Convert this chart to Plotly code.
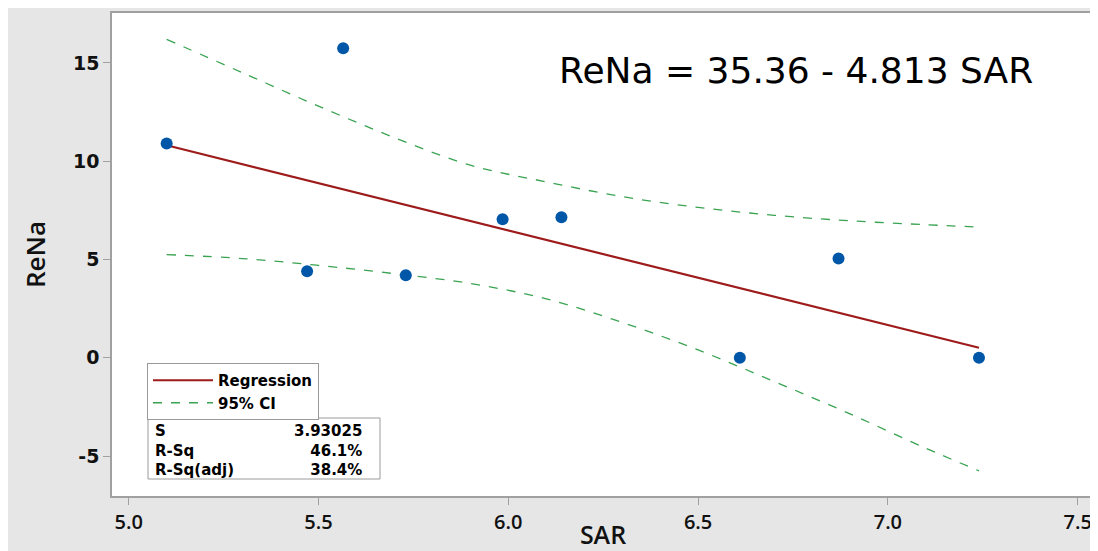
import plotly.graph_objects as go

# ---- data ----
SAR = [5.10, 5.47, 5.565, 5.73, 5.985, 6.14, 6.61, 6.87, 7.24]
RENA = [10.9, 4.4, 15.75, 4.2, 7.05, 7.15, 0.0, 5.05, 0.0]

REG_X = [5.10, 7.24]
REG_Y = [10.81, 0.51]

CI_X = [5.10, 5.30, 5.50, 5.70, 5.90, 6.10, 6.30, 6.50, 6.70, 6.90, 7.10, 7.24]
CI_UPPER = [16.2, 14.5, 12.8, 11.2, 9.8, 8.95, 8.2, 7.65, 7.25, 6.97, 6.77, 6.65]
CI_LOWER = [5.25, 5.05, 4.7, 4.28, 3.78, 3.0, 1.8, 0.4, -1.2, -2.85, -4.6, -5.75]

X_TICKS = [5.0, 5.5, 6.0, 6.5, 7.0, 7.5]
X_TICK_LABELS = ["5.0", "5.5", "6.0", "6.5", "7.0", "7.5"]
Y_TICKS = [-5, 0, 5, 10, 15]
Y_TICK_LABELS = ["-5", "0", "5", "10", "15"]

EQUATION = "ReNa = 35.36 - 4.813 SAR"
STAT_NAMES = ["S", "R-Sq", "R-Sq(adj)"]
STAT_VALUES = ["3.93025", "46.1%", "38.4%"]

# ---- styling ----
OFF = 8  # page body margin of the browser
W, H = 1098 - OFF, 551 - OFF
ML, MR, MT, MB = 112 - OFF, 4, 13 - OFF, 551 - 496
PW, PH = W - ML - MR, H - MT - MB
RED = "#9e1b1b"
GREEN = "#3aa352"
BLUE = "#0057a8"
GRID = "#a0a0a0"
TEXT_FONT = "DejaVu Sans"


def px_x(p):
    # reference page pixel -> paper fraction
    return (p - OFF - ML) / PW


def px_y(p):
    return (H - MB - (p - OFF)) / PH


fig = go.Figure()

fig.add_trace(go.Scatter(
    x=REG_X, y=REG_Y, mode="lines", name="Regression",
    line=dict(color=RED, width=2.2), showlegend=True,
))
fig.add_trace(go.Scatter(
    x=CI_X, y=CI_UPPER, mode="lines", name="95% CI", legendgroup="ci",
    line=dict(color=GREEN, width=1.3, dash="dash", shape="spline"), showlegend=True,
))
fig.add_trace(go.Scatter(
    x=CI_X, y=CI_LOWER, mode="lines", name="95% CI", legendgroup="ci",
    line=dict(color=GREEN, width=1.3, dash="dash", shape="spline"), showlegend=False,
))
fig.add_trace(go.Scatter(
    x=SAR, y=RENA, mode="markers", name="ReNa",
    marker=dict(color=BLUE, size=12), showlegend=False,
))

# equation
fig.add_annotation(
    x=px_x(796), y=px_y(70), xref="paper", yref="paper",
    text=EQUATION, showarrow=False, xanchor="center", yanchor="middle",
    font=dict(family=TEXT_FONT, size=36, color="#000000"),
)

# stats box
fig.add_shape(
    type="rect", xref="paper", yref="paper",
    x0=px_x(148), x1=px_x(380), y0=px_y(479), y1=px_y(418),
    line=dict(color="#9a9a9a", width=1), fillcolor="white", layer="above",
)
fig.add_annotation(
    x=px_x(153), y=px_y(450), xref="paper", yref="paper", text="<br>".join(STAT_NAMES),
    showarrow=False, xanchor="left", yanchor="middle", align="left",
    font=dict(family=TEXT_FONT, size=15, color="#000000", weight="bold"),
)
fig.add_annotation(
    x=px_x(364), y=px_y(450), xref="paper", yref="paper", text="<br>".join(STAT_VALUES),
    showarrow=False, xanchor="right", yanchor="middle", align="right",
    font=dict(family=TEXT_FONT, size=15, color="#000000", weight="bold"),
)

fig.update_layout(
    width=W, height=H,
    margin=dict(l=ML, r=MR, t=MT, b=MB),
    paper_bgcolor="#e6e6e6",
    plot_bgcolor="white",
    showlegend=True,
    legend=dict(
        x=px_x(147), y=px_y(363), xanchor="left", yanchor="top",
        bgcolor="white", bordercolor="#9a9a9a", borderwidth=1,
        font=dict(family=TEXT_FONT, size=15, color="#000000", weight="bold"),
        tracegroupgap=0, itemwidth=60,
    ),
    xaxis=dict(
        range=[4.956, 7.543], tickmode="array", tickvals=X_TICKS, ticktext=X_TICK_LABELS,
        showgrid=False, zeroline=False, showline=True, mirror=True,
        linecolor=GRID, linewidth=1.5, ticks="outside", ticklen=7, tickcolor=GRID,
        tickfont=dict(family="Open Sans", size=20, color="#111111", weight=600),
        title=dict(text="SAR", font=dict(family="Open Sans", size=25, color="#111111", weight=600), standoff=6),
        automargin=False,
    ),
    yaxis=dict(
        range=[-7.03, 17.54], tickmode="array", tickvals=Y_TICKS, ticktext=Y_TICK_LABELS,
        showgrid=False, zeroline=False, showline=True, mirror=True,
        linecolor=GRID, linewidth=1.5, ticks="outside", ticklen=7, tickcolor=GRID,
        tickfont=dict(family=TEXT_FONT, size=19, color="#111111", weight="bold"),
        title=dict(text="ReNa", font=dict(family="Open Sans", size=26, color="#111111", weight=600), standoff=20),
        automargin=False,
    ),
)

fig.write_html("out.html")
